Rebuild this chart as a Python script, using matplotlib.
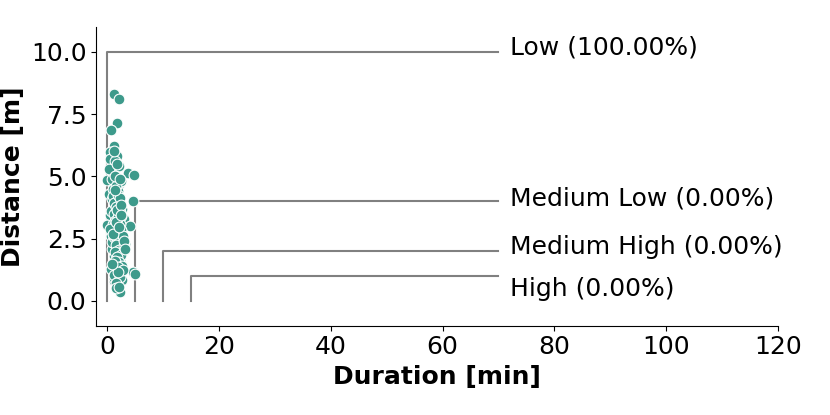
import numpy as np
import matplotlib.pyplot as plt

# scatter data: duration [min], distance [m]
duration = [1.1, 2.0, 1.7, 0.7, 1.25, 0.4, 1.7, 0.5, 1.3, 3.6, 4.8, 0.0, 0.8, 2.0, 2.4,
            0.2, 1.0, 4.6, 1.4, 0.5, 1.7, 2.9, 0.0, 4.0, 2.0, 1.4, 3.2, 1.4, 2.3, 4.6,
            5.0, 1.25, 2.6, 2.2, 0.9, 1.5, 2.1, 0.6, 1.2, 1.8, 2.5, 1.0, 1.6, 0.8, 2.2,
            1.3, 1.9, 0.7, 1.1, 2.7, 1.5, 0.9, 2.0, 1.2, 1.7, 2.4, 1.0, 1.4, 0.6, 1.8,
            2.3, 1.1, 1.6, 0.9, 2.1, 1.3, 1.9, 1.0, 1.5, 2.6, 0.8, 1.2, 1.7, 2.0, 1.4,
            0.3, 1.1, 2.8, 1.6, 0.5,
            1.8, 2.2, 1.5, 2.5, 1.2, 1.9, 2.8, 1.6, 2.1, 1.3, 2.4, 1.7, 2.0, 1.4, 2.6,
            1.1, 1.8, 2.3, 1.5, 2.9, 1.9, 1.2, 2.2, 1.6, 2.7, 1.0, 2.0, 1.7, 2.4, 1.3,
            3.0, 1.5, 2.1, 1.8, 0.9, 2.5, 1.4, 2.2, 1.7, 3.1]
distance = [8.3, 8.1, 7.14, 6.87, 6.2, 5.97, 5.8, 5.7, 5.46, 5.13, 5.05, 4.86, 4.9, 4.7, 4.8,
            4.3, 4.5, 4.03, 3.8, 3.45, 3.25, 3.3, 3.05, 3.0, 2.7, 2.2, 2.3, 1.45, 1.65, 1.17,
            1.08, 0.78, 0.84, 0.35, 4.1, 4.0, 3.9, 3.6, 3.5, 3.6, 3.4, 3.1, 3.0, 2.9, 3.1,
            2.8, 2.5, 2.6, 2.4, 2.5, 2.0, 2.1, 1.9, 1.8, 1.7, 2.0, 1.5, 1.2, 1.3, 1.1,
            1.3, 0.9, 1.0, 5.2, 5.4, 5.6, 4.4, 4.2, 4.6, 3.7, 2.35, 2.55, 2.75, 2.15, 3.2,
            5.3, 6.0, 2.0, 0.6, 2.9,
            3.35, 3.55, 3.15, 2.85, 2.65, 2.45, 2.6, 2.25, 2.05, 1.95, 1.85, 1.75, 1.55, 1.6,
            1.4, 3.95, 4.25, 4.15, 3.75, 2.2, 1.35, 1.05, 0.95, 0.7, 1.25, 2.7, 2.95, 3.65,
            3.85, 4.45, 2.4, 0.5, 0.55, 1.15, 1.5, 3.45, 5.0, 4.9, 5.5, 2.1]

# classification thresholds
classes = ["Low", "Medium Low", "Medium High", "High"]
class_dur = [0, 5, 10, 15]
class_dist = [10, 4, 2, 1]
class_pct = [100.0, 0.0, 0.0, 0.0]
label_y = [10.16, 4.1, 2.17, 0.48]
line_end = 70

fig, ax = plt.subplots(figsize=(8.3, 4.15), dpi=100)

ax.scatter(duration, distance, s=60, color="#3d9a8b", edgecolor="white", linewidth=0.8, zorder=3)

for name, d, s, p, ly in zip(classes, class_dur, class_dist, class_pct, label_y):
    ax.plot([d, d, line_end], [0, s, s], color="gray", lw=1.5, zorder=2)
    ax.text(line_end + 2, ly, f"{name} ({p:.2f}%)", fontsize=18, va="center", ha="left")

ax.set_xlim(-2, 120)
ax.set_ylim(-1.0, 11.0)
ax.set_xticks([0, 20, 40, 60, 80, 100, 120])
ax.set_yticks([0, 2.5, 5, 7.5, 10])
ax.set_yticklabels(["0.0", "2.5", "5.0", "7.5", "10.0"])
ax.tick_params(labelsize=18)
ax.set_xlabel("Duration [min]", fontsize=18, fontweight="bold")
ax.set_ylabel("Distance [m]", fontsize=18, fontweight="bold")
ax.spines["top"].set_visible(False)
ax.spines["right"].set_visible(False)

fig.subplots_adjust(left=0.116, right=0.937, top=0.935, bottom=0.215)
fig.savefig("out.png")
